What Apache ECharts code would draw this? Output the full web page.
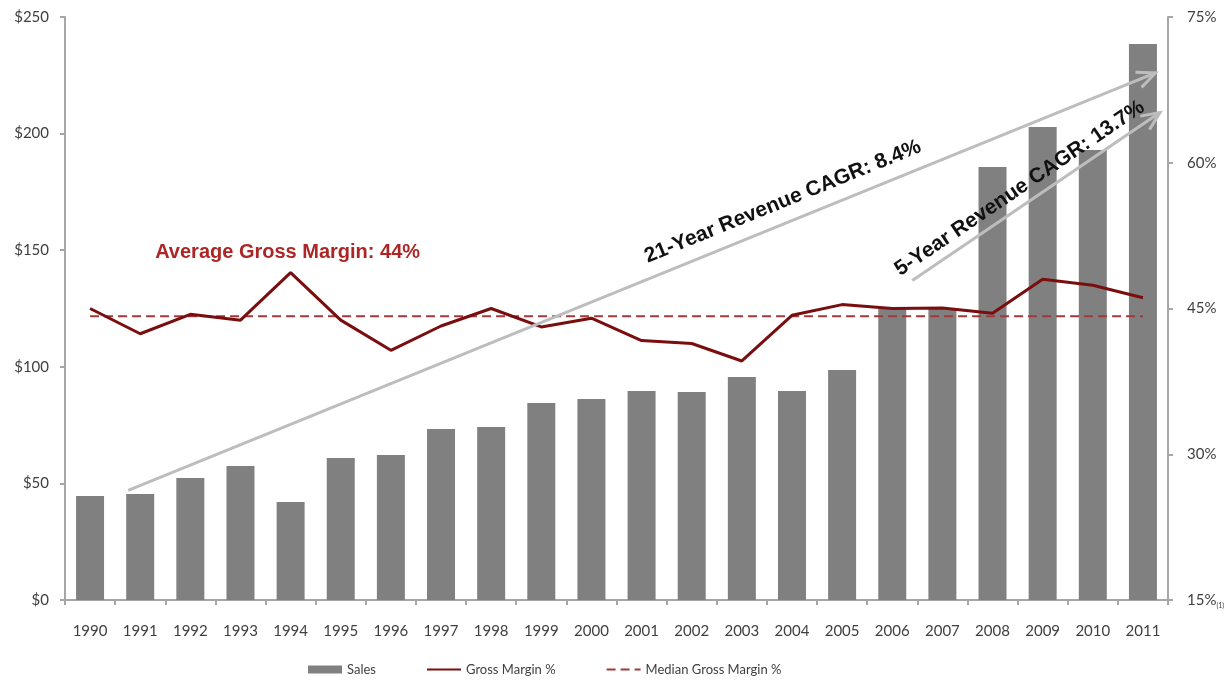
<!DOCTYPE html>
<html>
<head>
<meta charset="utf-8">
<script src="https://cdn.jsdelivr.net/npm/echarts@6/dist/echarts.min.js"></script>
<style>
  html, body { margin: 0; padding: 0; background: #fff; }
  #chart { width: 1231px; height: 682px; }
</style>
</head>
<body>
<div id="chart"></div>
<script>
// Fiscal years
const years = ['1990','1991','1992','1993','1994','1995','1996','1997','1998','1999','2000',
               '2001','2002','2003','2004','2005','2006','2007','2008','2009','2010','2011'];
// Sales, $ (left axis)
const sales = [44.6, 45.5, 52.3, 57.5, 42.0, 60.9, 62.2, 73.3, 74.2, 84.5, 86.2,
               89.6, 89.2, 95.6, 89.6, 98.6, 125.2, 125.2, 185.7, 202.8, 193.0, 238.4];
// Gross margin, % (right axis)
const grossMargin = [45.0, 42.4, 44.4, 43.8, 48.7, 43.8, 40.7, 43.2, 45.0, 43.1, 44.0,
                     41.7, 41.4, 39.6, 44.3, 45.4, 45.0, 45.05, 44.5, 48.0, 47.4, 46.1];
// Median gross margin, %
const medianMargin = 44.2;
const medianSeries = years.map(() => medianMargin);

// Left / right tick ranges
const salesTicks = { min: 0, max: 250, interval: 50 };
const marginTicks = { min: 15, max: 75, interval: 15 };

// Annotation texts
const avgLabel = 'Average Gross Margin: 44%';
const cagr21Label = '21-Year Revenue CAGR: 8.4%';
const cagr5Label = '5-Year Revenue CAGR: 13.7%';

const chart = echarts.init(document.getElementById('chart'));
const axisGrey = '#a6a6a6';
const tickFont = { fontFamily: 'Lato, "Open Sans", sans-serif', fontSize: 15, color: '#404040' };

chart.setOption({
  animation: false,
  backgroundColor: '#ffffff',
  grid: { left: 65, right: 63, top: 17, bottom: 82 },
  legend: {
    left: 303, bottom: 1,
    itemWidth: 34, itemHeight: 8, itemGap: 50,
    textStyle: { fontFamily: 'Lato, "Open Sans", sans-serif', fontSize: 13, color: '#404040' },
    data: [
      { name: 'Sales', icon: 'rect' },
      { name: 'Gross Margin %', itemStyle: { opacity: 0 } },
      { name: 'Median Gross Margin %', itemStyle: { opacity: 0 } }
    ]
  },
  xAxis: {
    type: 'category',
    data: years,
    axisLine: { lineStyle: { color: axisGrey, width: 2 } },
    axisTick: { show: true, length: 5, lineStyle: { color: axisGrey, width: 2 } },
    axisLabel: Object.assign({ margin: 24 }, tickFont)
  },
  yAxis: [
    {
      type: 'value',
      min: salesTicks.min, max: salesTicks.max, interval: salesTicks.interval,
      splitLine: { show: false },
      axisLine: { show: true, lineStyle: { color: axisGrey, width: 2 } },
      axisTick: { show: true, length: 5, lineStyle: { color: axisGrey, width: 2 } },
      axisLabel: Object.assign({ margin: 16, formatter: v => '$' + v }, tickFont)
    },
    {
      type: 'value',
      position: 'right',
      min: marginTicks.min, max: marginTicks.max, interval: marginTicks.interval,
      splitLine: { show: false },
      axisLine: { show: true, lineStyle: { color: axisGrey, width: 2 } },
      axisTick: { show: true, length: 5, lineStyle: { color: axisGrey, width: 2 } },
      axisLabel: Object.assign({
        margin: 19,
        formatter: v => v === 15 ? '15%{fn|(1)}' : v + '%',
        rich: { fn: { fontSize: 7, color: '#404040', padding: [12, 0, 0, 0] } }
      }, tickFont)
    }
  ],
  series: [
    {
      name: 'Sales',
      type: 'bar',
      data: sales,
      barWidth: 28,
      itemStyle: { color: '#808080' },
      z: 1
    },
    {
      name: 'Gross Margin %',
      type: 'line',
      yAxisIndex: 1,
      data: grossMargin,
      symbol: 'none',
      lineStyle: { color: '#7a0e0e', width: 3 },
      itemStyle: { color: '#7a0e0e' },
      z: 4
    },
    {
      name: 'Median Gross Margin %',
      type: 'line',
      yAxisIndex: 1,
      data: medianSeries,
      symbol: 'none',
      lineStyle: { color: '#a03a3a', width: 2, type: [9, 5] },
      itemStyle: { color: '#a03a3a' },
      z: 3
    }
  ]
});

// Growth arrows and their captions, placed in data space
function drawAnnotations() {
  const px = (idx, frac, val) => {
    const a = chart.convertToPixel({ xAxisIndex: 0, yAxisIndex: 0 }, [idx, val]);
    const b = chart.convertToPixel({ xAxisIndex: 0, yAxisIndex: 0 }, [idx > 0 ? idx - 1 : idx + 1, val]);
    const band = Math.abs(b[0] - a[0]);
    return [a[0] + frac * band, a[1]];
  };
  const arrowColor = '#bdbdbd';
  const elements = [];

  function arrow(p0, p1) {
    const ang = Math.atan2(p1[1] - p0[1], p1[0] - p0[0]);
    const len = 20, spread = 0.42;
    const h1 = [p1[0] - len * Math.cos(ang - spread), p1[1] - len * Math.sin(ang - spread)];
    const h2 = [p1[0] - len * Math.cos(ang + spread), p1[1] - len * Math.sin(ang + spread)];
    elements.push({
      type: 'polyline', z: 10,
      shape: { points: [p0, p1] },
      style: { stroke: arrowColor, lineWidth: 3, fill: null }
    });
    elements.push({
      type: 'polyline', z: 10,
      shape: { points: [h1, p1, h2] },
      style: { stroke: arrowColor, lineWidth: 3, fill: null }
    });
  }

  function caption(p0, p1, t, offset, text, size) {
    const ang = Math.atan2(p1[1] - p0[1], p1[0] - p0[0]);
    const cx = p0[0] + (p1[0] - p0[0]) * t + offset * Math.sin(ang);
    const cy = p0[1] + (p1[1] - p0[1]) * t - offset * Math.cos(ang);
    elements.push({
      type: 'text', z: 12,
      x: cx, y: cy, rotation: -ang,
      style: {
        text: text, x: 0, y: 0, align: 'center', verticalAlign: 'middle',
        fontFamily: '"Liberation Sans", Arial, sans-serif', fontWeight: 'bold',
        fontSize: size, fill: '#111111'
      }
    });
  }

  // 21-year arrow: from 1991 sales level up past 2011
  const a0 = px(1, -0.24, 47), a1 = px(21, 0.25, 226);
  arrow(a0, a1);
  caption(a0, a1, 0.645, 21, cagr21Label, 21);

  // 5-year arrow: 2006 to 2011
  const b0 = px(16, 0.4, 137), b1 = px(21, 0.34, 209);
  arrow(b0, b1);
  caption(b0, b1, 0.47, 16, cagr5Label, 21);

  // Average gross margin label above the 1994 peak
  const m = chart.convertToPixel({ xAxisIndex: 0, yAxisIndex: 1 }, [4, 48.7]);
  elements.push({
    type: 'text', z: 12,
    x: m[0] - 3, y: m[1] - 20,
    style: {
      text: avgLabel, x: 0, y: 0, align: 'center', verticalAlign: 'middle',
      fontFamily: '"Liberation Sans", Arial, sans-serif', fontWeight: 'bold',
      fontSize: 20, fill: '#ad2524'
    }
  });

  chart.setOption({ graphic: { elements: elements } });
}
drawAnnotations();
</script>
</body>
</html>
